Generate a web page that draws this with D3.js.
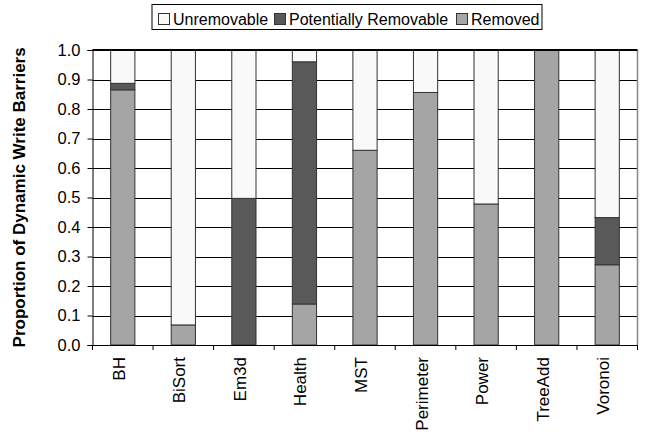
<!DOCTYPE html>
<html>
<head>
<meta charset="utf-8">
<script src="https://cdn.jsdelivr.net/npm/d3@7"></script>
<style>
  html, body { margin: 0; padding: 0; background: #fff; }
  svg { display: block; }
  text { font-family: "Liberation Sans", Arial, sans-serif; fill: #000; }
</style>
</head>
<body>
<svg id="chart" width="649" height="435"></svg>
<script>
const categories = ["BH", "BiSort", "Em3d", "Health", "MST", "Perimeter", "Power", "TreeAdd", "Voronoi"];
const removed = [0.865, 0.068, 0.0, 0.139, 0.660, 0.856, 0.478, 1.0, 0.272];
const potentiallyRemovable = [0.022, 0.0, 0.497, 0.821, 0.0, 0.0, 0.0, 0.0, 0.160];
const unremovable = [0.113, 0.932, 0.503, 0.040, 0.340, 0.144, 0.522, 0.0, 0.568];
const yTicks = [0, 0.1, 0.2, 0.3, 0.4, 0.5, 0.6, 0.7, 0.8, 0.9, 1.0];
const seriesNames = ["Removed", "Potentially Removable", "Unremovable"];
const legendOrder = ["Unremovable", "Potentially Removable", "Removed"];
const colors = { "Removed": "#a5a5a5", "Potentially Removable": "#595959", "Unremovable": "#f9f9f9" };

const rows = categories.map((c, i) => ({
  cat: c,
  "Removed": removed[i],
  "Potentially Removable": potentiallyRemovable[i],
  "Unremovable": unremovable[i]
}));

const svg = d3.select("#chart");
const mLeft = 92.5, mRight = 637.5, mTop = 50, mBottom = 345;

const x = d3.scaleBand().domain(categories).range([mLeft, mRight]).paddingInner(0.6).paddingOuter(0.3);
const xb = d3.scaleBand().domain(categories).range([mLeft, mRight]);
const y = d3.scaleLinear().domain([0, 1]).range([mBottom, mTop]);

// gridlines
svg.append("g").selectAll("line").data(yTicks.filter(t => t > 0 && t < 1)).join("line")
  .attr("x1", mLeft).attr("x2", mRight)
  .attr("y1", d => Math.round(y(d)) + 0.5).attr("y2", d => Math.round(y(d)) + 0.5)
  .attr("stroke", "#000").attr("stroke-width", 1);

// right border
svg.append("line").attr("x1", mRight).attr("x2", mRight).attr("y1", mTop).attr("y2", mBottom)
  .attr("stroke", "#888").attr("stroke-width", 1.5);

// bars
const stack = d3.stack().keys(seriesNames);
const stacked = stack(rows);
svg.append("g").selectAll("g").data(stacked).join("g")
  .attr("fill", d => colors[d.key])
  .selectAll("rect").data(d => d.filter(p => p[1] - p[0] > 0)).join("rect")
  .attr("x", d => x(d.data.cat))
  .attr("width", x.bandwidth())
  .attr("y", d => y(d[1]))
  .attr("height", d => y(d[0]) - y(d[1]))
  .attr("stroke", "#333").attr("stroke-width", 1);

// top border
svg.append("line").attr("x1", mLeft).attr("x2", mRight).attr("y1", mTop).attr("y2", mTop)
  .attr("stroke", "#000").attr("stroke-width", 2);

// y axis
const yAxis = d3.axisLeft(y).tickValues(yTicks).tickFormat(d3.format(".1f")).tickSize(5).tickPadding(7);
const gy = svg.append("g").attr("transform", `translate(${mLeft},0)`).call(yAxis);
gy.select(".domain").attr("stroke", "#000");
gy.selectAll(".tick line").attr("stroke", "#000");
gy.selectAll(".tick text").style("font-size", "16.5px").style("font-family", "'Liberation Sans', Arial, sans-serif").attr("fill", "#000");

// x axis
const gx = svg.append("g").attr("transform", `translate(0,${mBottom})`);
gx.append("line").attr("x1", mLeft).attr("x2", mRight).attr("y1", 0.5).attr("y2", 0.5).attr("stroke", "#000");
gx.selectAll("line.tk").data(categories.concat(["__end"])).join("line").attr("class", "tk")
  .attr("x1", (d, i) => i < categories.length ? xb(d) : mRight)
  .attr("x2", (d, i) => i < categories.length ? xb(d) : mRight)
  .attr("y1", 0).attr("y2", 5).attr("stroke", "#000");
gx.selectAll("text").data(categories).join("text")
  .attr("transform", d => `translate(${xb(d) + xb.bandwidth() / 2 + 2},12) rotate(-90)`)
  .attr("text-anchor", "end")
  .style("font-size", "17px")
  .text(d => d);

// y title
svg.append("text")
  .attr("transform", `translate(25,${(46.7 + 348) / 2}) rotate(-90)`)
  .attr("text-anchor", "middle")
  .style("font-size", "17px").style("font-weight", "bold")
  .text("Proportion of Dynamic Write Barriers");

// legend
const lg = svg.append("g");
lg.append("rect").attr("x", 152).attr("y", 4.5).attr("width", 390).attr("height", 25)
  .attr("fill", "#fff").attr("stroke", "#000").attr("stroke-width", 1);
const legendX = { "Unremovable": 158.5, "Potentially Removable": 274.5, "Removed": 456.5 };
legendOrder.forEach(k => {
  lg.append("rect").attr("x", legendX[k]).attr("y", 13.5).attr("width", 11).attr("height", 11)
    .attr("fill", colors[k]).attr("stroke", "#333").attr("stroke-width", 1);
  lg.append("text").attr("x", legendX[k] + 14.5).attr("y", 24.5).style("font-size", "16px").text(k);
});
</script>
</body>
</html>
